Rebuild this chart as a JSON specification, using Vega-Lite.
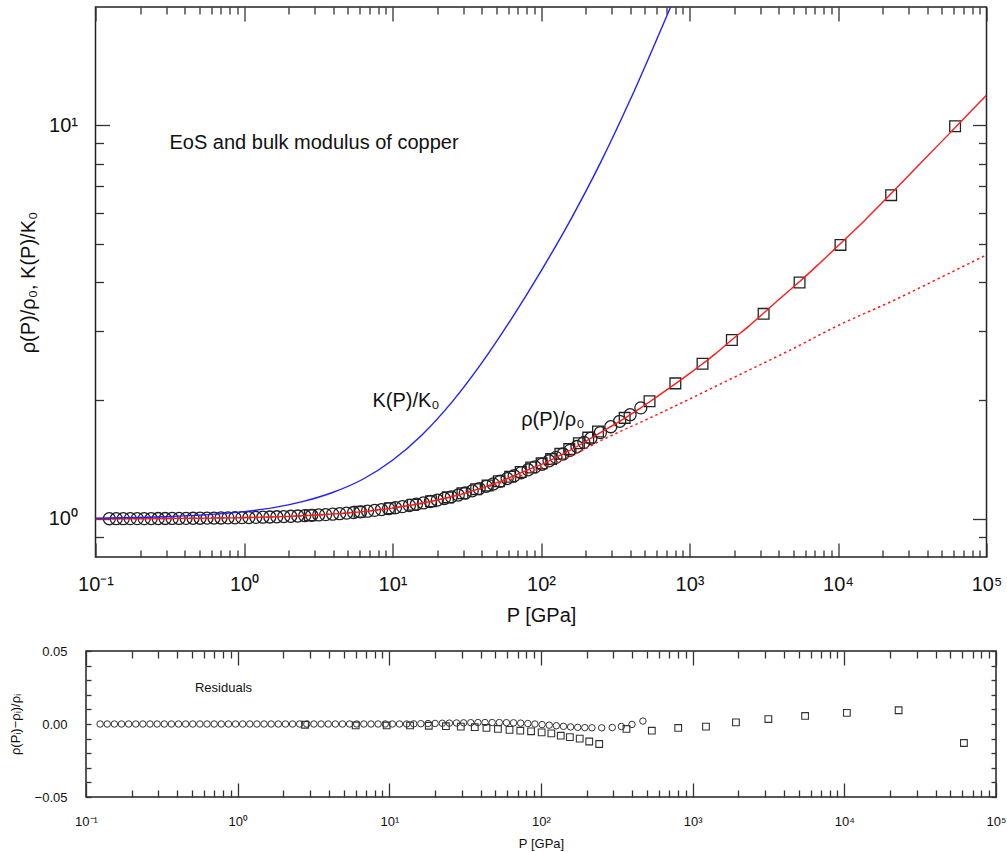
{
  "$schema": "https://vega.github.io/schema/vega-lite/v6.json",
  "autosize": {"type": "none"},
  "padding": {"left": 86, "top": 7, "right": 921, "bottom": 845},
  "config": {
    "font": "Liberation Sans",
    "view": {"stroke": "#222", "strokeWidth": 1.5},
    "axis": {"domain": false, "grid": false, "labelColor": "#111", "titleColor": "#111", "tickColor": "#333", "tickWidth": 1.3, "labelOverlap": false, "labelFlush": false, "labelBound": false, "titleFontWeight": "normal", "labelFont": "Liberation Sans", "titleFont": "Liberation Sans"}
  },
  "datasets": {
    "circ": [
      {"P":0.1239,"rho":1.0009,"res":0},{"P":0.138,"rho":1.001,"res":0},{"P":0.1538,"rho":1.0012,"res":0},{"P":0.1714,"rho":1.0013,"res":0},{"P":0.191,"rho":1.0014,"res":0},{"P":0.2128,"rho":1.0016,"res":0},{"P":0.2371,"rho":1.0018,"res":0},{"P":0.2642,"rho":1.002,"res":0},{"P":0.2944,"rho":1.0022,"res":0},{"P":0.3281,"rho":1.0025,"res":0},{"P":0.3656,"rho":1.0027,"res":0},{"P":0.4074,"rho":1.0031,"res":0},{"P":0.4539,"rho":1.0034,"res":0},{"P":0.5058,"rho":1.0038,"res":0},{"P":0.5636,"rho":1.0042,"res":0},{"P":0.6281,"rho":1.0047,"res":0},{"P":0.6998,"rho":1.0053,"res":0},{"P":0.7798,"rho":1.0058,"res":0},{"P":0.869,"rho":1.0065,"res":0},{"P":0.9683,"rho":1.0072,"res":0},{"P":1.079,"rho":1.008,"res":0},{"P":1.202,"rho":1.0089,"res":0},{"P":1.34,"rho":1.0099,"res":0},{"P":1.493,"rho":1.011,"res":0},{"P":1.663,"rho":1.0123,"res":0},{"P":1.854,"rho":1.0137,"res":0},{"P":2.065,"rho":1.0152,"res":0},{"P":2.301,"rho":1.0169,"res":0},{"P":2.564,"rho":1.0188,"res":0},{"P":2.858,"rho":1.0209,"res":0},{"P":3.184,"rho":1.0232,"res":0},{"P":3.548,"rho":1.0252,"res":0},{"P":3.954,"rho":1.0279,"res":0},{"P":4.406,"rho":1.0309,"res":0},{"P":4.909,"rho":1.0342,"res":0},{"P":5.47,"rho":1.0378,"res":0},{"P":6.095,"rho":1.0418,"res":0},{"P":6.792,"rho":1.0461,"res":0},{"P":7.568,"rho":1.0508,"res":0},{"P":8.433,"rho":1.056,"res":0},{"P":9.397,"rho":1.0616,"res":0},{"P":10.47,"rho":1.0677,"res":0},{"P":11.67,"rho":1.0744,"res":0},{"P":13.0,"rho":1.0816,"res":0},{"P":14.49,"rho":1.0894,"res":0.0001},{"P":16.14,"rho":1.0977,"res":0.0002},{"P":17.99,"rho":1.1068,"res":0.0003},{"P":20.04,"rho":1.1164,"res":0.0004},{"P":22.34,"rho":1.1268,"res":0.0005},{"P":24.89,"rho":1.1379,"res":0.0006},{"P":27.73,"rho":1.1497,"res":0.0007},{"P":30.9,"rho":1.1635,"res":0.0008},{"P":34.43,"rho":1.1785,"res":0.0009},{"P":38.37,"rho":1.194,"res":0.001},{"P":42.76,"rho":1.21,"res":0.001},{"P":47.64,"rho":1.227,"res":0.001},{"P":53.09,"rho":1.246,"res":0.001},{"P":59.16,"rho":1.266,"res":0.0009},{"P":65.92,"rho":1.287,"res":0.0008},{"P":73.45,"rho":1.31,"res":0.0006},{"P":81.85,"rho":1.333,"res":0.0003},{"P":91.2,"rho":1.356,"res":0},{"P":101.6,"rho":1.377,"res":-0.0004},{"P":113.2,"rho":1.405,"res":-0.0008},{"P":126.2,"rho":1.433,"res":-0.0012},{"P":140.6,"rho":1.462,"res":-0.0016},{"P":156.7,"rho":1.493,"res":-0.002},{"P":174.6,"rho":1.527,"res":-0.0023},{"P":194.5,"rho":1.565,"res":-0.0025},{"P":216.8,"rho":1.603,"res":-0.0026},{"P":251.2,"rho":1.657,"res":-0.0026},{"P":295.1,"rho":1.715,"res":-0.0024},{"P":338.8,"rho":1.77,"res":-0.0017},{"P":398.1,"rho":1.84,"res":-0.0003},{"P":469.9,"rho":1.915,"res":0.002}
    ],
    "sq": [
      {"P":2.78,"rho":1.021,"res":-0.0005},{"P":6.0,"rho":1.042,"res":-0.001},{"P":9.6,"rho":1.064,"res":-0.001},{"P":13.7,"rho":1.086,"res":-0.001},{"P":18.2,"rho":1.109,"res":-0.0012},{"P":23.6,"rho":1.134,"res":-0.0015},{"P":29.6,"rho":1.162,"res":-0.0018},{"P":36.6,"rho":1.19,"res":-0.0022},{"P":43.7,"rho":1.216,"res":-0.0027},{"P":52,"rho":1.246,"res":-0.0034},{"P":62,"rho":1.28,"res":-0.004},{"P":73,"rho":1.315,"res":-0.0046},{"P":86,"rho":1.351,"res":-0.005},{"P":101,"rho":1.384,"res":-0.0057},{"P":117,"rho":1.419,"res":-0.0064},{"P":135,"rho":1.463,"res":-0.008},{"P":155,"rho":1.504,"res":-0.009},{"P":180,"rho":1.556,"res":-0.01},{"P":208,"rho":1.609,"res":-0.012},{"P":242,"rho":1.668,"res":-0.0137},{"P":366,"rho":1.806,"res":-0.0034},{"P":538,"rho":1.99,"res":-0.0046},{"P":803,"rho":2.21,"res":-0.0027},{"P":1224,"rho":2.48,"res":-0.0018},{"P":1929,"rho":2.85,"res":0.0011},{"P":3155,"rho":3.32,"res":0.0034},{"P":5510,"rho":3.99,"res":0.0055},{"P":10390,"rho":4.97,"res":0.0076},{"P":22800,"rho":6.65,"res":0.0094},{"P":61450,"rho":9.95,"res":-0.013}
    ],
    "fit": [
      {"P":0.1,"rho":1.00075},{"P":0.3,"rho":1.0023},{"P":1,"rho":1.0075},{"P":2,"rho":1.0147},{"P":3.184,"rho":1.0232},{"P":4.909,"rho":1.0342},{"P":7.568,"rho":1.0508},{"P":10.47,"rho":1.0677},{"P":14.49,"rho":1.0894},{"P":20.04,"rho":1.1164},{"P":27.73,"rho":1.1497},{"P":34.43,"rho":1.1785},{"P":42.76,"rho":1.21},{"P":53.09,"rho":1.246},{"P":65.92,"rho":1.287},{"P":81.85,"rho":1.333},{"P":101.6,"rho":1.377},{"P":126.2,"rho":1.433},{"P":156.7,"rho":1.493},{"P":194.5,"rho":1.565},{"P":251.2,"rho":1.657},{"P":338.8,"rho":1.77},{"P":469.9,"rho":1.915},{"P":540,"rho":1.985},{"P":650,"rho":2.085},{"P":806,"rho":2.207},{"P":1000,"rho":2.34},{"P":1225,"rho":2.478},{"P":1500,"rho":2.63},{"P":1930,"rho":2.853},{"P":2500,"rho":3.085},{"P":3150,"rho":3.33},{"P":4000,"rho":3.61},{"P":5520,"rho":4.01},{"P":7500,"rho":4.46},{"P":10400,"rho":5.01},{"P":15000,"rho":5.72},{"P":22900,"rho":6.72},{"P":35000,"rho":7.93},{"P":50000,"rho":9.11},{"P":61800,"rho":9.89},{"P":80000,"rho":10.94},{"P":100000,"rho":11.94}
    ],
    "alt": [
      {"P":0.1,"rho":1.00075},{"P":1,"rho":1.0075},{"P":3,"rho":1.022},{"P":10,"rho":1.066},{"P":20,"rho":1.115},{"P":30,"rho":1.16},{"P":50,"rho":1.225},{"P":100,"rho":1.345},{"P":175,"rho":1.47},{"P":248,"rho":1.575},{"P":500,"rho":1.78},{"P":857,"rho":1.96},{"P":2000,"rho":2.29},{"P":5000,"rho":2.71},{"P":10000,"rho":3.1},{"P":23660,"rho":3.59},{"P":50000,"rho":4.12},{"P":100000,"rho":4.69}
    ],
    "bulk": [
      {"P":0.1,"k":1.0043},{"P":0.316,"k":1.0136},{"P":1,"k":1.043},{"P":1.585,"k":1.068},{"P":2.512,"k":1.108},{"P":3.95,"k":1.167},{"P":6.31,"k":1.261},{"P":10,"k":1.409},{"P":15.85,"k":1.636},{"P":25.12,"k":1.98},{"P":39.81,"k":2.487},{"P":63.1,"k":3.22},{"P":100,"k":4.263},{"P":158.5,"k":5.765},{"P":251.2,"k":8.03},{"P":398.1,"k":11.6},{"P":631,"k":17.25},{"P":1000,"k":25.9}
    ],
    "notes": [
      {"P":0.315,"v":9.0,"t":"EoS and bulk modulus of copper"},
      {"P":7.33,"v":1.995,"t":"K(P)/K₀"},
      {"P":73.6,"v":1.786,"t":"ρ(P)/ρ₀"}
    ],
    "rnotes": [
      {"P":0.523,"r":0.0245,"t":"Residuals"}
    ]
  },
  "vconcat": [
    {
      "width": 891,
      "height": 550,
      "resolve": {"axis": {"x": "independent", "y": "independent"}},
      "layer": [
        {
          "data": {"name": "circ"},
          "mark": {"type": "point", "shape": "circle", "filled": false, "size": 145, "stroke": "#222", "strokeWidth": 1.3, "opacity": 1, "clip": true},
          "encoding": {
            "x": {"field": "P", "type": "quantitative", "scale": {"type": "log", "domain": [0.1, 100000], "nice": false},
              "axis": {"orient": "bottom", "values": [0.1,0.2,0.3,0.4,0.5,0.6,0.7,0.8,0.9,1,2,3,4,5,6,7,8,9,10,20,30,40,50,60,70,80,90,100,200,300,400,500,600,700,800,900,1000,2000,3000,4000,5000,6000,7000,8000,9000,10000,20000,30000,40000,50000,60000,70000,80000,90000,100000],
                "labelExpr": "datum.value==0.1?'10⁻¹':datum.value==1?'10⁰':datum.value==10?'10¹':datum.value==100?'10²':datum.value==1000?'10³':datum.value==10000?'10⁴':datum.value==100000?'10⁵':''",
                "tickSize": {"condition": {"test": "indexof([0.1,1,10,100,1000,10000,100000], datum.value) >= 0", "value": -14}, "value": -7},
                "labelPadding": 31, "labelFontSize": 20, "title": "P [GPa]", "titleFontSize": 20, "titlePadding": 4}},
            "y": {"field": "rho", "type": "quantitative", "scale": {"type": "log", "domain": [0.8, 20], "nice": false},
              "axis": {"orient": "left", "values": [0.9,1,2,3,4,5,6,7,8,9,10],
                "labelExpr": "datum.value==1?'10⁰':datum.value==10?'10¹':''",
                "tickSize": {"condition": {"test": "datum.value==1 || datum.value==10", "value": -14}, "value": -8},
                "labelPadding": 32, "labelFontSize": 20, "title": "ρ(P)/ρ₀, K(P)/K₀", "titleFontSize": 20, "titlePadding": 10}}
          }
        },
        {
          "data": {"name": "sq"},
          "mark": {"type": "point", "shape": "square", "filled": false, "size": 115, "stroke": "#222", "strokeWidth": 1.3, "opacity": 1, "clip": true},
          "encoding": {
            "x": {"field": "P", "type": "quantitative", "scale": {"type": "log", "domain": [0.1, 100000], "nice": false},
              "axis": {"orient": "top", "values": [0.1,0.2,0.3,0.4,0.5,0.6,0.7,0.8,0.9,1,2,3,4,5,6,7,8,9,10,20,30,40,50,60,70,80,90,100,200,300,400,500,600,700,800,900,1000,2000,3000,4000,5000,6000,7000,8000,9000,10000,20000,30000,40000,50000,60000,70000,80000,90000,100000],
                "labels": false, "title": null,
                "tickSize": {"condition": {"test": "indexof([0.1,1,10,100,1000,10000,100000], datum.value) >= 0", "value": -14}, "value": -7}}},
            "y": {"field": "rho", "type": "quantitative", "scale": {"type": "log", "domain": [0.8, 20], "nice": false},
              "axis": {"orient": "right", "values": [0.9,1,2,3,4,5,6,7,8,9,10], "labels": false, "title": null,
                "tickSize": {"condition": {"test": "datum.value==1 || datum.value==10", "value": -14}, "value": -8}}}
          }
        },
        {
          "data": {"name": "alt"},
          "mark": {"type": "line", "color": "#ff1a1a", "strokeWidth": 1.5, "strokeDash": [2.5, 3], "interpolate": "monotone", "clip": true},
          "encoding": {
            "x": {"field": "P", "type": "quantitative", "scale": {"type": "log", "domain": [0.1, 100000], "nice": false}, "axis": null},
            "y": {"field": "rho", "type": "quantitative", "scale": {"type": "log", "domain": [0.8, 20], "nice": false}, "axis": null}
          }
        },
        {
          "data": {"name": "fit"},
          "mark": {"type": "line", "color": "#ff1a1a", "strokeWidth": 1.4, "interpolate": "monotone", "clip": true},
          "encoding": {
            "x": {"field": "P", "type": "quantitative", "scale": {"type": "log", "domain": [0.1, 100000], "nice": false}, "axis": null},
            "y": {"field": "rho", "type": "quantitative", "scale": {"type": "log", "domain": [0.8, 20], "nice": false}, "axis": null}
          }
        },
        {
          "data": {"name": "bulk"},
          "mark": {"type": "line", "color": "#1f1fff", "strokeWidth": 1.4, "interpolate": "monotone", "clip": true},
          "encoding": {
            "x": {"field": "P", "type": "quantitative", "scale": {"type": "log", "domain": [0.1, 100000], "nice": false}, "axis": null},
            "y": {"field": "k", "type": "quantitative", "scale": {"type": "log", "domain": [0.8, 20], "nice": false}, "axis": null}
          }
        },
        {
          "data": {"name": "notes"},
          "mark": {"type": "text", "align": "left", "baseline": "middle", "fontSize": 20, "font": "Liberation Sans", "color": "#111"},
          "encoding": {
            "x": {"field": "P", "type": "quantitative", "scale": {"type": "log", "domain": [0.1, 100000], "nice": false}, "axis": null},
            "y": {"field": "v", "type": "quantitative", "scale": {"type": "log", "domain": [0.8, 20], "nice": false}, "axis": null},
            "text": {"field": "t"}
          }
        }
      ]
    },
    {
      "width": 910,
      "height": 146,
      "resolve": {"axis": {"x": "independent", "y": "independent"}},
      "layer": [
        {
          "data": {"name": "circ"},
          "mark": {"type": "point", "shape": "circle", "filled": false, "size": 42, "stroke": "#333", "strokeWidth": 1, "opacity": 1, "clip": true},
          "encoding": {
            "x": {"field": "P", "type": "quantitative", "scale": {"type": "log", "domain": [0.1, 100000], "nice": false},
              "axis": {"orient": "bottom", "values": [0.1,0.2,0.3,0.4,0.5,0.6,0.7,0.8,0.9,1,2,3,4,5,6,7,8,9,10,20,30,40,50,60,70,80,90,100,200,300,400,500,600,700,800,900,1000,2000,3000,4000,5000,6000,7000,8000,9000,10000,20000,30000,40000,50000,60000,70000,80000,90000,100000],
                "labelExpr": "datum.value==0.1?'10⁻¹':datum.value==1?'10⁰':datum.value==10?'10¹':datum.value==100?'10²':datum.value==1000?'10³':datum.value==10000?'10⁴':datum.value==100000?'10⁵':''",
                "tickSize": {"condition": {"test": "indexof([0.1,1,10,100,1000,10000,100000], datum.value) >= 0", "value": -14}, "value": -7},
                "labelPadding": 32, "labelFontSize": 13, "title": "P [GPa]", "titleFontSize": 13, "titlePadding": 2}},
            "y": {"field": "res", "type": "quantitative", "scale": {"domain": [-0.05, 0.05], "nice": false, "zero": false},
              "axis": {"orient": "left", "values": [-0.05,-0.04,-0.03,-0.02,-0.01,0,0.01,0.02,0.03,0.04,0.05],
                "labelExpr": "datum.value==0.05?'0.05':datum.value==0?'0.00':datum.value==-0.05?'−0.05':''",
                "tickSize": -5, "labelPadding": 24, "labelFontSize": 13, "title": "ρ(Pᵢ)−ρᵢ)/ρᵢ", "titleFontSize": 13, "titlePadding": 12}}
          }
        },
        {
          "data": {"name": "sq"},
          "mark": {"type": "point", "shape": "square", "filled": false, "size": 45, "stroke": "#333", "strokeWidth": 1.1, "opacity": 1, "clip": true},
          "encoding": {
            "x": {"field": "P", "type": "quantitative", "scale": {"type": "log", "domain": [0.1, 100000], "nice": false},
              "axis": {"orient": "top", "values": [0.1,0.2,0.3,0.4,0.5,0.6,0.7,0.8,0.9,1,2,3,4,5,6,7,8,9,10,20,30,40,50,60,70,80,90,100,200,300,400,500,600,700,800,900,1000,2000,3000,4000,5000,6000,7000,8000,9000,10000,20000,30000,40000,50000,60000,70000,80000,90000,100000],
                "labels": false, "title": null,
                "tickSize": {"condition": {"test": "indexof([0.1,1,10,100,1000,10000,100000], datum.value) >= 0", "value": -14}, "value": -7}}},
            "y": {"field": "res", "type": "quantitative", "scale": {"domain": [-0.05, 0.05], "nice": false, "zero": false},
              "axis": {"orient": "right", "values": [-0.05,-0.04,-0.03,-0.02,-0.01,0,0.01,0.02,0.03,0.04,0.05], "labels": false, "title": null, "tickSize": -5}}
          }
        },
        {
          "mark": {"type": "rule", "color": "#f04040", "strokeWidth": 1.5},
          "encoding": {
            "y": {"datum": 0, "type": "quantitative", "scale": {"domain": [-0.05, 0.05], "nice": false, "zero": false}, "axis": null}
          }
        },
        {
          "data": {"name": "rnotes"},
          "mark": {"type": "text", "align": "left", "baseline": "middle", "fontSize": 13, "font": "Liberation Sans", "color": "#111"},
          "encoding": {
            "x": {"field": "P", "type": "quantitative", "scale": {"type": "log", "domain": [0.1, 100000], "nice": false}, "axis": null},
            "y": {"field": "r", "type": "quantitative", "scale": {"domain": [-0.05, 0.05], "nice": false, "zero": false}, "axis": null},
            "text": {"field": "t"}
          }
        }
      ]
    }
  ],
  "spacing": 94,
  "bounds": "flush",
  "center": true
}
